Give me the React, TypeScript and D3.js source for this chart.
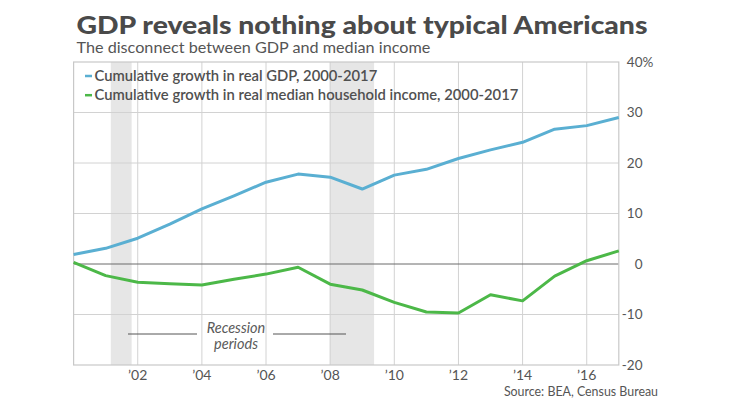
import React from "react";
import * as d3 from "d3";

const years = [2000, 2001, 2002, 2003, 2004, 2005, 2006, 2007, 2008, 2009, 2010, 2011, 2012, 2013, 2014, 2015, 2016, 2017];
const gdpGrowth = [1.9, 3.1, 5.1, 7.9, 10.9, 13.5, 16.2, 17.8, 17.2, 14.85, 17.6, 18.75, 20.9, 22.6, 24.1, 26.7, 27.4, 29.0];
const incomeGrowth = [0.3, -2.3, -3.6, -3.9, -4.15, -3.0, -2.0, -0.65, -4.0, -5.15, -7.6, -9.5, -9.7, -6.1, -7.3, -2.4, 0.65, 2.6];
const recessions: [number, number][] = [[2001.16, 2001.81], [2007.99, 2009.37]];
const xTicks = [2002, 2004, 2006, 2008, 2010, 2012, 2014, 2016];
const yTicks = [40, 30, 20, 10, 0, -10, -20];
const seriesNames = [
  "Cumulative growth in real GDP, 2000-2017",
  "Cumulative growth in real median household income, 2000-2017",
];
const title = "GDP reveals nothing about typical Americans";
const subtitle = "The disconnect between GDP and median income";
const source = "Source: BEA, Census Bureau";

const W = 729;
const H = 410;
const FONT = "Lato, 'Noto Sans', sans-serif";
const BLUE = "#5aafd2";
const GREEN = "#4cb848";

export default function App() {
  const left = 73.6, right = 618.8, top = 62, bottom = 365;
  const x = d3.scaleLinear().domain([2000, 2017]).range([left, right]);
  const y = d3.scaleLinear().domain([-20, 40]).range([bottom, top]);
  const line = d3.line<number>().x((_, i) => x(years[i])).y((v) => y(v)).curve(d3.curveLinear);

  return (
    <svg width={W} height={H} style={{ position: "absolute", left: 0, top: 0, background: "#fff" }}>
      <rect x={0} y={0} width={W} height={H} fill="#fff" />
      {recessions.map(([a, b], i) => (
        <rect key={i} x={x(a)} y={top} width={x(b) - x(a)} height={bottom - top} fill="#e6e6e6" />
      ))}
      {xTicks.map((t) => (
        <line key={t} x1={x(t)} x2={x(t)} y1={top} y2={bottom} stroke="#d2d2d2" strokeWidth={1} />
      ))}
      {yTicks.filter((t) => t !== 40 && t !== -20 && t !== 0).map((t) => (
        <line key={t} x1={left} x2={right} y1={y(t)} y2={y(t)} stroke="#d2d2d2" strokeWidth={1} />
      ))}
      <line x1={left} x2={right} y1={y(0)} y2={y(0)} stroke="#6a6a6a" strokeWidth={1} />
      <rect x={left} y={top} width={right - left} height={bottom - top} fill="none" stroke="#c8c8c8" strokeWidth={1.2} />

      <path d={line(gdpGrowth) || ""} fill="none" stroke={BLUE} strokeWidth={3} strokeLinejoin="round" />
      <path d={line(incomeGrowth) || ""} fill="none" stroke={GREEN} strokeWidth={3} strokeLinejoin="round" />

      <text x={76.5} y={34} fontFamily={FONT} fontWeight={900} fontSize={25} fill="#4a4a4a"
        textLength={571} lengthAdjust="spacingAndGlyphs">{title}</text>
      <text x={76.5} y={53.3} fontFamily={FONT} fontWeight={400} fontSize={16.2} fill="#555">{subtitle}</text>

      {seriesNames.map((n, i) => (
        <g key={n}>
          <line x1={85} x2={92} y1={76 + i * 19.2} y2={76 + i * 19.2} stroke={i === 0 ? BLUE : GREEN} strokeWidth={2.5} />
          <text x={94.5} y={80.8 + i * 19.2} fontFamily={FONT} fontWeight={600} fontSize={14.8} fill="#505050">{n}</text>
        </g>
      ))}

      <line x1={128} x2={197} y1={334} y2={334} stroke="#555" strokeWidth={1} />
      <line x1={273} x2={346} y1={334} y2={334} stroke="#555" strokeWidth={1} />
      <text x={236} y={333} textAnchor="middle" fontFamily={FONT} fontStyle="italic" fontSize={14.5} fill="#5a5a5a">Recession</text>
      <text x={236} y={349} textAnchor="middle" fontFamily={FONT} fontStyle="italic" fontSize={14.5} fill="#5a5a5a">periods</text>

      {xTicks.map((t) => (
        <text key={t} x={x(t)} y={380} textAnchor="middle" fontFamily={FONT} fontSize={14} fill="#555">
          {"\u2019" + String(t).slice(2)}
        </text>
      ))}
      {yTicks.map((t) => (
        <g key={t}>
          <text x={642.5} y={y(t) + 4.7} textAnchor="end" fontFamily={FONT} fontSize={13.5} fill="#555">{String(t)}</text>
          {t === 40 && (
            <text x={642.5} y={y(t) + 4.7} fontFamily={FONT} fontSize={13.5} fill="#555">%</text>
          )}
        </g>
      ))}

      <text x={658} y={396} textAnchor="end" fontFamily={FONT} fontSize={12.4} fill="#555">{source}</text>
    </svg>
  );
}
